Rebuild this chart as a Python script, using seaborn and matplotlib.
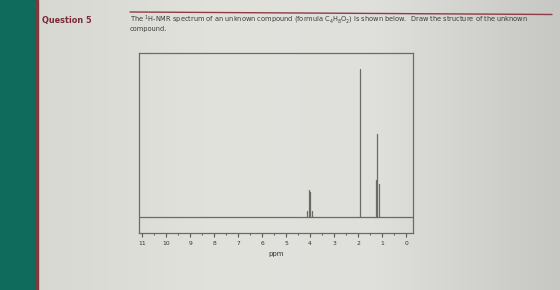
import numpy as np
import pandas as pd
import matplotlib
matplotlib.use("Agg")
import matplotlib.pyplot as plt
from matplotlib.colors import LinearSegmentedColormap
import seaborn as sns

# ---- data ----
peak_ppm = [4.11, 4.05, 3.99, 3.93, 1.93, 1.27, 1.20, 1.13]
peak_height = [4, 18, 17, 4, 100, 25, 56, 22]
tick_values = [11, 10, 9, 8, 7, 6, 5, 4, 3, 2, 1, 0]
tick_labels = ["11", "10", "9", "8", "7", "6", "5", "4", "3", "2", "1", "0"]
minor_values = [10.5, 9.5, 8.5, 7.5, 6.5, 5.5, 4.5, 3.5, 2.5, 1.5, 0.5]
x_label = "ppm"
question = "Question 5"
line1 = r"The $^{1}$H-NMR spectrum of an unknown compound (formula C$_4$H$_8$O$_2$) is shown below.  Draw the structure of the unknown"
line2 = "compound."

sns.set_style("white")
plt.rcParams["font.family"] = ["DejaVu Sans"]

W, H = 560, 290
fig = plt.figure(figsize=(W / 100, H / 100), dpi=100)

# background page
bg = fig.add_axes([0, 0, 1, 1], zorder=-10)
bg.set_xlim(0, W)
bg.set_ylim(H, 0)
bg.axis("off")
cmap = LinearSegmentedColormap.from_list(
    "page",
    [(0.0, "#d8d8d2"), (0.35, "#e2e2dd"), (0.65, "#dfdfdb"), (1.0, "#c7c7c3")],
)
grad = np.linspace(0, 1, 256).reshape(1, -1)
bg.imshow(grad, cmap=cmap, extent=[36, W, H, 0], aspect="auto", zorder=0)
bg.add_patch(plt.Rectangle((0, 0), 36, H, color="#0f6b5c", zorder=1))
bg.add_patch(plt.Rectangle((35.5, 0), 2, H, color="#7a3a3e", zorder=2))
bg.plot([130, 552], [12, 14.5], color="#8e3c47", lw=1.0, zorder=3)
bg.text(42, 23.5, question, fontsize=5.9, fontweight="bold", color="#7a2c38",
        va="baseline", ha="left", zorder=4)
bg.text(130, 22, line1, fontsize=4.8, color="#3a3a3a", va="baseline",
        ha="left", zorder=4)
bg.text(130, 31, line2, fontsize=4.8, color="#3a3a3a", va="baseline",
        ha="left", zorder=4)

# spectrum axes
ax = fig.add_axes([139 / W, (H - 233) / H, (413 - 139) / W, 180.5 / H])
ax.set_facecolor("none")

rows = []
for i, (p, h) in enumerate(zip(peak_ppm, peak_height)):
    rows += [(i, p, 0), (i, p, h)]
df = pd.DataFrame(rows, columns=["peak", "ppm", "intensity"])
sns.lineplot(data=df, x="ppm", y="intensity", units="peak", estimator=None,
             sort=False, color="#6a6a6a", lw=0.9, ax=ax)
ax.axhline(0, color="#6a6a6a", lw=0.9)

ax.set_xlim(11.125, -0.29)
ax.set_ylim(-10.8, 111.1)
ax.set_xticks(tick_values)
ax.set_xticklabels(tick_labels, fontsize=4.3, color="#333333")
ax.set_xticks(minor_values, minor=True)
ax.set_yticks([])
ax.tick_params(axis="x", which="major", direction="out", length=3.2, width=0.8,
               color="#555555", pad=2.5, bottom=True)
ax.tick_params(axis="x", which="minor", direction="out", length=1.6, width=0.7,
               color="#555555", bottom=True)
ax.set_xlabel(x_label, fontsize=5, color="#333333", labelpad=4)
ax.set_ylabel("")
for s in ax.spines.values():
    s.set_color("#6a6a6a")
    s.set_linewidth(0.9)
    s.set_visible(True)

fig.savefig("out.png", dpi=100)
